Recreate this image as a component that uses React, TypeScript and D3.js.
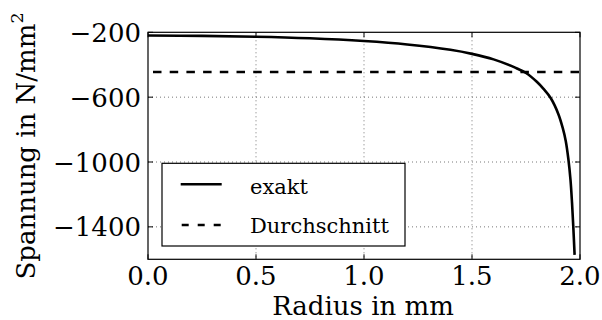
import React from "react";
import * as d3 from "d3";

// Radial stress distribution: exact solution vs. mean value
const radius = [0, 0.25, 0.5, 0.75, 1.0, 1.2, 1.4, 1.5, 1.6, 1.7, 1.75, 1.8, 1.83, 1.865, 1.9, 1.92, 1.934, 1.946, 1.956, 1.963, 1.969, 1.975];
const exakt = [-220, -222, -227, -237, -254, -275, -308, -333, -367, -418, -451, -505, -547, -607, -705, -790, -870, -980, -1110, -1250, -1400, -1573];
const durchschnitt = -445;

const xTicks = [0, 0.5, 1.0, 1.5, 2.0];
const yTicks = [-200, -600, -1000, -1400];

const W = 602;
const H = 320;
const M = { left: 148, right: 580, top: 32.3, bottom: 259.3 };
const FONT = "'DejaVu Serif', serif";

export default function App() {
  const x = d3.scaleLinear().domain([0, 2]).range([M.left, M.right]);
  const y = d3.scaleLinear().domain([-1600, -200]).range([M.bottom, M.top]);

  const pts: [number, number][] = radius.map((r, i) => [r, exakt[i]]);
  const line = d3
    .line<[number, number]>()
    .x((d) => x(d[0]))
    .y((d) => y(d[1]))
    .curve(d3.curveCatmullRom.alpha(0.5));

  const fmtY = (v: number) => (v < 0 ? "\u2212" + Math.abs(v) : String(v));
  const tickLen = 5;

  return (
    <svg
      width={W}
      height={H}
      style={{ position: "absolute", left: 0, top: 0, background: "#fff" }}
      fontFamily={FONT}
    >
      <defs>
        <clipPath id="plot-clip">
          <rect x={M.left} y={M.top} width={M.right - M.left} height={M.bottom - M.top} />
        </clipPath>
      </defs>

      {/* grid */}
      <g stroke="#555" strokeWidth={0.8} strokeDasharray="1,3">
        {xTicks.slice(1, -1).map((t) => (
          <line key={"gx" + t} x1={x(t)} x2={x(t)} y1={M.top} y2={M.bottom} />
        ))}
        {yTicks.slice(1).map((t) => (
          <line key={"gy" + t} x1={M.left} x2={M.right} y1={y(t)} y2={y(t)} />
        ))}
      </g>

      {/* ticks, inside on all four sides */}
      <g stroke="#000" strokeWidth={1}>
        {xTicks.map((t) => (
          <g key={"tx" + t}>
            <line x1={x(t)} x2={x(t)} y1={M.bottom} y2={M.bottom - tickLen} />
            <line x1={x(t)} x2={x(t)} y1={M.top} y2={M.top + tickLen} />
          </g>
        ))}
        {yTicks.map((t) => (
          <g key={"ty" + t}>
            <line x1={M.left} x2={M.left + tickLen} y1={y(t)} y2={y(t)} />
            <line x1={M.right} x2={M.right - tickLen} y1={y(t)} y2={y(t)} />
          </g>
        ))}
      </g>

      {/* data */}
      <g clipPath="url(#plot-clip)">
        <line
          x1={x(0)}
          x2={x(2)}
          y1={y(durchschnitt)}
          y2={y(durchschnitt)}
          stroke="#000"
          strokeWidth={2.6}
          strokeDasharray="8.5,8.2"
          strokeDashoffset={-5}
        />
      </g>
      <path d={line(pts) ?? ""} fill="none" stroke="#000" strokeWidth={2.6} />

      {/* frame */}
      <rect
        x={M.left}
        y={M.top}
        width={M.right - M.left}
        height={M.bottom - M.top}
        fill="none"
        stroke="#000"
        strokeWidth={1.2}
      />

      {/* tick labels */}
      <g fontSize={26} fill="#000">
        {xTicks.map((t) => (
          <text key={"lx" + t} x={x(t)} y={285} textAnchor="middle">
            {t.toFixed(1)}
          </text>
        ))}
        {yTicks.map((t) => (
          <text key={"ly" + t} x={141} y={y(t) + 9.5} textAnchor="end">
            {fmtY(t)}
          </text>
        ))}
      </g>

      {/* axis labels */}
      <text x={(M.left + M.right) / 2 - 1} y={314.5} textAnchor="middle" fontSize={26}>
        Radius in mm
      </text>
      <text
        transform={`translate(35, 146) rotate(-90)`}
        textAnchor="middle"
        fontSize={26}
      >
        Spannung in N/mm
        <tspan fontSize={17.5} dy={-12}>2</tspan>
      </text>

      {/* legend */}
      <g>
        <rect x={162} y={163.3} width={243} height={82.7} fill="#fff" stroke="#000" strokeWidth={1.2} />
        <line x1={180.7} x2={221.7} y1={184.3} y2={184.3} stroke="#000" strokeWidth={2.6} />
        <line
          x1={180.7}
          x2={221.7}
          y1={225}
          y2={225}
          stroke="#000"
          strokeWidth={2.6}
          strokeDasharray="7,9"
          strokeDashoffset={-1}
        />
        <text x={250} y={194.3} fontSize={21}>exakt</text>
        <text x={250} y={233.3} fontSize={21}>Durchschnitt</text>
      </g>
    </svg>
  );
}
